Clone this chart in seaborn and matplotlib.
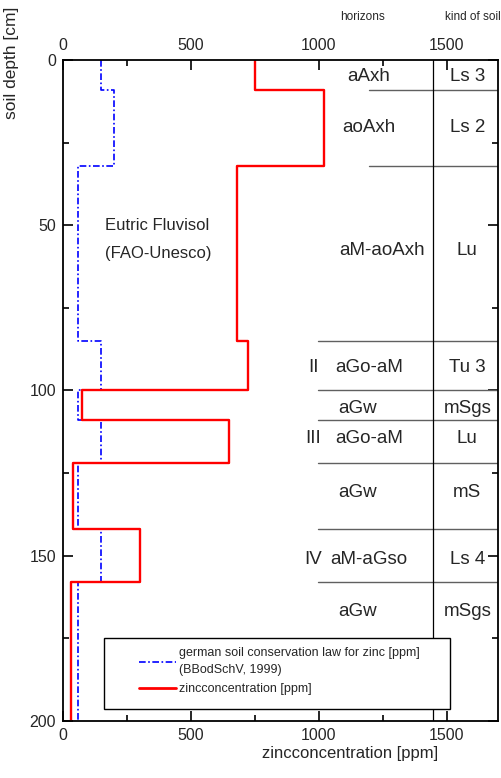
import numpy as np
import pandas as pd
import matplotlib
matplotlib.use('Agg')
import matplotlib.pyplot as plt
import seaborn as sns
from matplotlib.ticker import MultipleLocator
from matplotlib.lines import Line2D
from matplotlib.patches import Rectangle

# layer boundaries [cm]
depths = [0, 9, 32, 85, 100, 109, 122, 142, 158, 200]
# zinc concentration per layer [ppm]
zinc = [750, 1020, 680, 725, 75, 650, 40, 300, 30]
# german soil conservation law limit per layer [ppm]
law = [150, 200, 60, 150, 60, 150, 60, 150, 60]

# horizon labels
hor_roman = ['', '', '', 'II', '', 'III', '', 'IV', '']
hor_names = ['aAxh', 'aoAxh', 'aM-aoAxh', 'aGo-aM', 'aGw', 'aGo-aM', 'aGw', 'aM-aGso', 'aGw']
soil_kind = ['Ls 3', 'Ls 2', 'Lu', 'Tu 3', 'mSgs', 'Lu', 'mS', 'Ls 4', 'mSgs']
# text depth positions for labels (middle of layer, first one nudged up)
label_depth = [5, 20.5, 57.5, 93, 105.5, 114.5, 131, 151, 167]


def steps(bounds, vals):
    y = np.repeat(bounds, 2)[1:-1]
    x = np.repeat(vals, 2)
    return pd.DataFrame({'x': x, 'y': y})


sns.set_style('white')
plt.rcParams['font.family'] = ['Liberation Sans', 'DejaVu Sans']

fig = plt.figure(figsize=(5.01, 7.78), dpi=100)
ax = fig.add_axes([0.1257, 0.0733, 0.8683, 0.8496])

law_df = steps(depths, law)
zinc_df = steps(depths, zinc)
sns.lineplot(data=law_df, x='x', y='y', sort=False, estimator=None, color='#0000ff',
             lw=1.2, linestyle=(0, (4, 1.5, 1, 1.5)), ax=ax)
sns.lineplot(data=zinc_df, x='x', y='y', sort=False, estimator=None, color='#ff0000',
             lw=1.7, ax=ax)

ax.set_xlim(0, 1700)
ax.set_ylim(200, 0)

# horizon boundary lines
for d in depths[1:-1]:
    x0 = 1195 if d < 40 else 996
    ax.plot([x0, 1700], [d, d], color='#606060', lw=1)
ax.axvline(1445, color='black', lw=0.9)

for r, h, k, d in zip(hor_roman, hor_names, soil_kind, label_depth):
    xh = 1245 if h == 'aM-aoAxh' else (1150 if h == 'aGw' else 1195)
    ax.text(xh, d, h, ha='center', va='center', fontsize=13.5)
    ax.text(1580, d, k, ha='center', va='center', fontsize=13.5)
    if r:
        ax.text(978, d, r, ha='center', va='center', fontsize=13.5)

ax.text(1172, -13, 'horizons', ha='center', va='center', fontsize=8.5)
ax.text(1600, -13, 'kind of soil', ha='center', va='center', fontsize=8.5)

ax.text(165, 50, 'Eutric Fluvisol', ha='left', va='center', fontsize=12)
ax.text(165, 58.5, '(FAO-Unesco)', ha='left', va='center', fontsize=12)

# legend box
ax.add_patch(Rectangle((0.094, 0.018), 0.796, 0.108, transform=ax.transAxes,
                       fill=True, facecolor='white', edgecolor='black', lw=1, zorder=4))
handles = [Line2D([], [], color='#0000ff', lw=1.2, linestyle=(0, (4, 1.5, 1, 1.5))),
           Line2D([], [], color='#ff0000', lw=2)]
labels = ['german soil conservation law for zinc [ppm]\n(BBodSchV, 1999)',
          'zincconcentration [ppm]']
leg = ax.legend(handles, labels, loc='lower left', bbox_to_anchor=(0.145, 0.02),
                frameon=False, fontsize=9, handlelength=3, handletextpad=0.2,
                labelspacing=0.55, borderpad=0.5)
for t in leg.get_texts():
    t.set_linespacing(1.55)
leg.set_zorder(5)

ax.xaxis.set_major_locator(MultipleLocator(500))
ax.xaxis.set_minor_locator(MultipleLocator(250))
ax.yaxis.set_major_locator(MultipleLocator(50))
ax.yaxis.set_minor_locator(MultipleLocator(25))
ax.tick_params(which='both', direction='in', top=True, bottom=True, left=True, right=True,
               labeltop=True, labelbottom=True, labelsize=11.5, color='black', width=1.2)
ax.tick_params(which='major', length=7, pad=5)
ax.tick_params(which='minor', length=4)

for s in ax.spines.values():
    s.set_color('black')
    s.set_linewidth(1.3)

ax.set_xlabel('zincconcentration [ppm]', fontsize=12)
ax.xaxis.set_label_coords(0.66, -0.038)
ax.set_ylabel('soil depth [cm]', fontsize=12.5)
ax.yaxis.set_label_coords(-0.1, 0.995)

fig.savefig('out.png', dpi=100)
